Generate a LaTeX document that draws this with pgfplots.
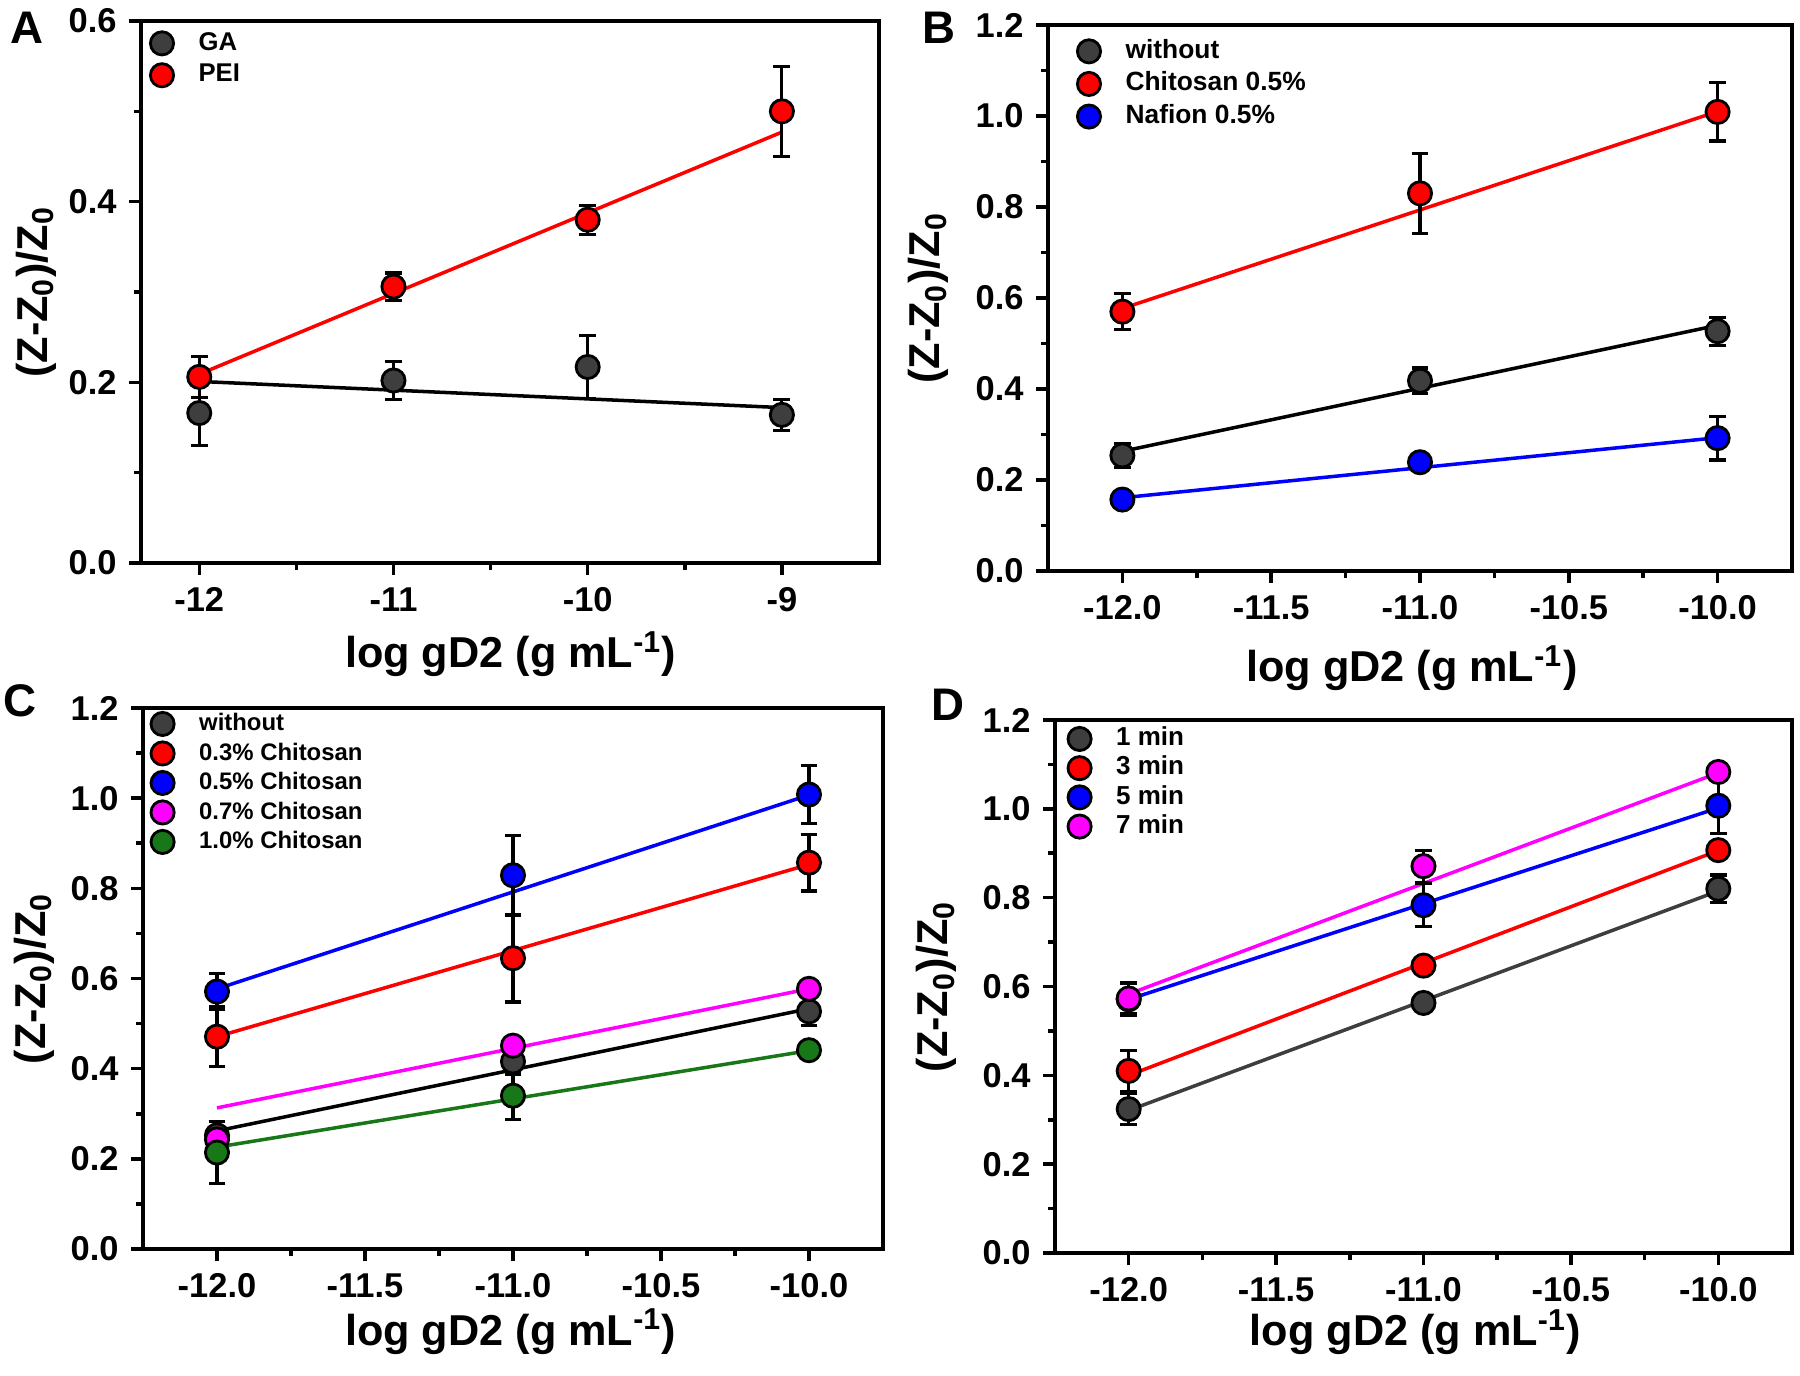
\documentclass[border=0pt]{standalone}
\usepackage{pgfplots}
\pgfplotsset{compat=1.18}
\usepackage{fontspec}
\setmainfont{Liberation Sans}

\definecolor{dgrey}{RGB}{62,62,62}
\definecolor{mygreen}{RGB}{24,120,24}
\definecolor{mymag}{RGB}{255,0,255}
\definecolor{myred}{RGB}{255,0,0}
\definecolor{myblue}{RGB}{0,0,255}

\pgfplotsset{
  panel/.style={
    scale only axis,
    axis line style={line width=1pt},
    every tick/.style={line width=1pt, black},
    tick align=outside,
    xtick pos=bottom, ytick pos=left,
    major tick length=0.12cm,
    minor tick length=0.07cm,
    minor x tick num=1, minor y tick num=1,
    tick label style={font=\fontsize{9.8}{11}\selectfont\bfseries},
    label style={font=\fontsize{12.3}{14}\selectfont\bfseries},
    ylabel={(Z-Z\textsubscript{0})/Z\textsubscript{0}},
    xlabel={log gD2 (g mL\textsuperscript{-1})},
    ylabel style={rotate=0, anchor=center},
    xlabel style={anchor=center},
    ymin=0, ymax=1.2,
    ytick={0,0.2,0.4,0.6,0.8,1.0,1.2}, yticklabels={0.0,0.2,0.4,0.6,0.8,1.0,1.2},
    xmin=-12.25, xmax=-9.75,
    xtick={-12,-11.5,-11,-10.5,-10}, xticklabels={-12.0,-11.5,-11.0,-10.5,-10.0},
    legend cell align=left,
    legend style={draw=none, fill=none, at={(0,1)}, anchor=north west, inner sep=0pt,
      font=\fontsize{7.3}{8}\selectfont\bfseries,
      nodes={inner sep=0pt, text height=5.3pt, text depth=1.5pt},
      /tikz/every odd column/.append style={column sep=0.25cm}},
    legend image code/.code={\draw[##1] plot coordinates {(0cm,0cm)};},
  },
  fitline/.style={#1, line width=1pt, no marks, forget plot},
  datpt/.style={only marks, mark=*, mark size=3.3pt,
    mark options={draw=black, fill=#1, line width=0.8pt},
    error bars/.cd, y dir=both, y explicit,
    error bar style={black, line width=0.9pt},
    error mark options={rotate=90, black, line width=0.9pt, mark size=2.4pt}},
}

\begin{document}
\begin{tikzpicture}
\useasboundingbox (0,0) rectangle (18,13.76);

% ---------------- A ----------------
\begin{axis}[panel, at={(1.41cm,8.13cm)}, anchor=south west, width=7.38cm, height=5.42cm,
  xmin=-12.3, xmax=-8.5, xtick={-12,-11,-10,-9}, xticklabels={-12,-11,-10,-9},
  ymax=0.6, ytick={0,0.2,0.4,0.6}, yticklabels={0.0,0.2,0.4,0.6},
  ylabel style={at={(axis description cs:-0.142,0.5)}},
  xlabel style={at={(axis description cs:0.501,-0.168)}},
  legend style={xshift=0.087cm, yshift=-0.097cm, row sep=0.08cm}]
\addplot[fitline=black] coordinates {(-12,0.201) (-9,0.172)};
\addplot[fitline=myred] coordinates {(-12,0.209) (-9,0.477)};
\addplot[datpt=dgrey] table[y error index=2] {
-12 0.166 0.036
-11 0.202 0.021
-10 0.217 0.035
-9  0.164 0.017
};
\addlegendentry{GA}
\addplot[datpt=myred] table[y error index=2] {
-12 0.206 0.023
-11 0.306 0.015
-10 0.380 0.016
-9  0.500 0.050
};
\addlegendentry{PEI}
\end{axis}

% ---------------- B ----------------
\begin{axis}[panel, at={(10.48cm,8.05cm)}, anchor=south west, width=7.44cm, height=5.46cm,
  ylabel style={at={(axis description cs:-0.161,0.5)}},
  xlabel style={at={(axis description cs:0.489,-0.178)}},
  legend style={xshift=0.287cm, yshift=-0.137cm, row sep=0.087cm, font=\fontsize{7.5}{8}\selectfont\bfseries}]
\addplot[fitline=black] coordinates {(-12,0.263) (-10,0.540)};
\addplot[fitline=myred] coordinates {(-12,0.577) (-10,1.010)};
\addplot[fitline=myblue] coordinates {(-12,0.161) (-10,0.293)};
\addplot[datpt=dgrey] table[y error index=2] {
-12 0.254 0.027
-11 0.418 0.028
-10 0.527 0.031
};
\addlegendentry{without}
\addplot[datpt=myred] table[y error index=2] {
-12 0.570 0.040
-11 0.830 0.088
-10 1.009 0.064
};
\addlegendentry{Chitosan 0.5\%}
\addplot[datpt=myblue] table[y error index=2] {
-12 0.157 0.010
-11 0.239 0.010
-10 0.292 0.048
};
\addlegendentry{Nafion 0.5\%}
\end{axis}

% ---------------- C ----------------
\begin{axis}[panel, at={(1.43cm,1.27cm)}, anchor=south west, width=7.40cm, height=5.41cm,
  ylabel style={at={(axis description cs:-0.147,0.5)}},
  xlabel style={at={(axis description cs:0.497,-0.153)}},
  legend style={xshift=0.073cm, yshift=-0.033cm, row sep=0.056cm, font=\fontsize{6.8}{8}\selectfont\bfseries}]
\addplot[fitline=black] coordinates {(-12,0.262) (-10,0.533)};
\addplot[fitline=myred] coordinates {(-12,0.471) (-10,0.853)};
\addplot[fitline=myblue] coordinates {(-12,0.577) (-10,1.007)};
\addplot[fitline=mymag] coordinates {(-12,0.313) (-10,0.577)};
\addplot[fitline=mygreen] coordinates {(-12,0.226) (-10,0.440)};
\addplot[datpt=dgrey] table[y error index=2] {
-12 0.252 0.030
-11 0.416 0.028
-10 0.527 0.031
};
\addlegendentry{without}
\addplot[datpt=myred] table[y error index=2] {
-12 0.471 0.066
-11 0.645 0.097
-10 0.857 0.063
};
\addlegendentry{0.3\% Chitosan}
\addplot[datpt=myblue] table[y error index=2] {
-12 0.571 0.040
-11 0.829 0.088
-10 1.008 0.064
};
\addlegendentry{0.5\% Chitosan}
\addplot[datpt=mymag] table[y error index=2] {
-12 0.243 0.020
-11 0.451 0.010
-10 0.577 0.010
};
\addlegendentry{0.7\% Chitosan}
\addplot[datpt=mygreen] table[y error index=2] {
-12 0.214 0.068
-11 0.340 0.052
-10 0.441 0.010
};
\addlegendentry{1.0\% Chitosan}
\end{axis}

% ---------------- D ----------------
\begin{axis}[panel, at={(10.55cm,1.23cm)}, anchor=south west, width=7.37cm, height=5.33cm,
  ylabel style={at={(axis description cs:-0.161,0.5)}},
  xlabel style={at={(axis description cs:0.489,-0.148)}},
  legend style={xshift=0.123cm, yshift=-0.063cm, row sep=0.053cm, font=\fontsize{7.4}{8}\selectfont\bfseries}]
\addplot[fitline=dgrey] coordinates {(-12,0.321) (-10,0.815)};
\addplot[fitline=myred] coordinates {(-12,0.400) (-10,0.906)};
\addplot[fitline=myblue] coordinates {(-12,0.571) (-10,1.002)};
\addplot[fitline=mymag] coordinates {(-12,0.583) (-10,1.081)};
\addplot[datpt=dgrey] table[y error index=2] {
-12 0.324 0.035
-11 0.563 0.015
-10 0.820 0.031
};
\addlegendentry{1 min}
\addplot[datpt=myred] table[y error index=2] {
-12 0.410 0.046
-11 0.647 0.015
-10 0.907 0.010
};
\addlegendentry{3 min}
\addplot[datpt=myblue] table[y error index=2] {
-12 0.571 0.037
-11 0.783 0.048
-10 1.007 0.062
};
\addlegendentry{5 min}
\addplot[datpt=mymag] table[y error index=2] {
-12 0.573 0.035
-11 0.871 0.036
-10 1.083 0.010
};
\addlegendentry{7 min}
\end{axis}

\node[font=\fontsize{13}{15}\selectfont\bfseries] at (0.27,13.485) {A};
\node[font=\fontsize{13}{15}\selectfont\bfseries] at (9.39,13.485) {B};
\node[font=\fontsize{13}{15}\selectfont\bfseries] at (0.20,6.75) {C};
\node[font=\fontsize{13}{15}\selectfont\bfseries] at (9.48,6.71) {D};
\end{tikzpicture}
\end{document}
